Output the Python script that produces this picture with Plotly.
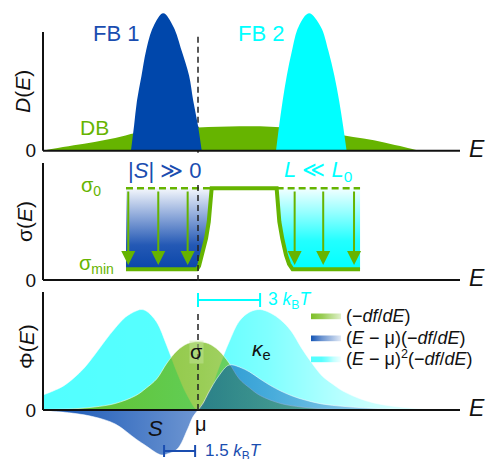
import plotly.graph_objects as go

# ---------------- data ----------------
E_MIN, E_MAX = -7.49, 12.66          # energy axis in units of kBT, mu = 0

# Panel 1: density of states
DB_E = [-7.49, -7, -6, -5, -4, -3, -2, -1, 0, 1, 2, 3, 4, 5, 6, 7, 8, 9, 10, 10.7]
DB_D = [0, 0.02, 0.055, 0.088, 0.127, 0.178, 0.195, 0.213, 0.232, 0.240, 0.245, 0.244,
        0.234, 0.214, 0.19, 0.155, 0.122, 0.083, 0.035, 0]
FB1_E = [-3.24, -3.09, -2.95, -2.73, -2.51, -2.16, -1.68, -1.19, -0.79, -0.43, -0.23, 0.0, 0.18]
FB1_D = [0, 0.25, 0.5, 0.75, 1.0, 1.24, 1.374, 1.24, 1.0, 0.75, 0.5, 0.25, 0]
FB2_E = [3.77, 3.92, 4.09, 4.29, 4.54, 4.86, 5.36, 5.93, 6.30, 6.59, 6.82, 7.01, 7.18]
FB2_D = [0, 0.25, 0.5, 0.75, 1.0, 1.24, 1.374, 1.24, 1.0, 0.75, 0.5, 0.25, 0]

# Panel 2: conductivity
SIG0 = 0.917
SIGMIN = 0.107
SIG_E = [-3.48, -0.05, 0.05, 0.18, 0.30, 0.39, 0.52, 0.60, 0.64, 0.66,
         3.80, 3.82, 3.85, 3.93, 4.07, 4.25, 4.40, 4.57, 7.83]
SIG_V = [SIGMIN, SIGMIN, 0.14, 0.25, 0.33, 0.417, 0.583, 0.75, 0.85, SIG0,
         SIG0, 0.85, 0.75, 0.583, 0.417, 0.25, 0.16, SIGMIN, SIGMIN]
ARROW_E = [-3.37, -1.92, -0.50, 4.67, 6.05, 7.54]
ARROW_TOP = 0.90
ARROW_TIP = 0.15

# Panel 3: transport kernels
GR_E = [-7.49, -7, -6, -5, -4, -3, -2.5, -2, -1.5, -1, -0.5, 0, 0.5, 1, 1.5, 2, 2.5, 3, 4, 5, 6, 7, 8, 9, 10, 12.66]
GR_V = [0.005, 0.007, 0.012, 0.03, 0.065, 0.145, 0.22, 0.31, 0.47, 0.595, 0.665, 0.683, 0.665,
        0.595, 0.47, 0.31, 0.22, 0.145, 0.065, 0.03, 0.012, 0.006, 0.003, 0.001, 0, 0]
BL_E = [-7.49, -7, -6, -5, -4, -3, -2.5, -2, -1.75, -1.5, -1, -0.5, -0.25, 0, 0.25, 0.5, 1,
        1.5, 2, 2.5, 3, 3.5, 4, 4.5, 5, 6, 7, 8, 9, 10, 11, 12.66]
BL_V = [-0.005, -0.012, -0.033, -0.07, -0.14, -0.29, -0.36, -0.43, -0.45, -0.44, -0.39, -0.19,
        -0.07, 0, 0.07, 0.17, 0.34, 0.45, 0.43, 0.38, 0.31, 0.245, 0.19, 0.145, 0.11, 0.06,
        0.037, 0.022, 0.012, 0.005, 0.002, 0]
CY_E = [-7.49, -7, -6.5, -6, -5.5, -5, -4.5, -4, -3.5, -3, -2.75, -2.5, -2, -1.5, -1, -0.5, 0,
        0.5, 1, 1.5, 2, 2.5, 3, 3.5, 4, 4.5, 5, 5.5, 6, 6.5, 7, 8, 9, 10, 11, 12.66]
CY_V = [0.15, 0.19, 0.24, 0.32, 0.42, 0.55, 0.69, 0.82, 0.93, 0.99, 1.005, 0.99, 0.88, 0.64,
        0.37, 0.14, 0, 0.15, 0.42, 0.68, 0.89, 0.98, 1.005, 0.97, 0.90, 0.79, 0.62, 0.47,
        0.34, 0.26, 0.19, 0.10, 0.05, 0.025, 0.01, 0]
BR3_E = [0, 3]          # 3 kBT bracket
BR15_E = [-1.64, -0.14]  # 1.5 kBT bracket

LEGEND_NAMES = ["(−<i>df</i>/<i>dE</i>)",
                "(<i>E</i> − μ)(−<i>df</i>/<i>dE</i>)",
                "(<i>E</i> − μ)<sup>2</sup>(−<i>df</i>/<i>dE</i>)"]

# ---------------- style ----------------
FONT = "Arial, 'Liberation Sans', Helvetica, sans-serif"
GREEN = "#66B400"
BLUE = "#0047AB"
BLUE_TXT = "#1A4DB0"
CYAN = "#00FFFF"
EDGE = dict(width=1, color="rgba(255,255,255,0.55)", shape="spline")

fig = go.Figure()

# Panel 1
for xs, ys, col in [(DB_E, DB_D, GREEN), (FB1_E, FB1_D, BLUE), (FB2_E, FB2_D, CYAN)]:
    fig.add_trace(go.Scatter(x=xs, y=ys, xaxis="x", yaxis="y", mode="lines",
                             line=dict(width=0, shape="spline", color=col),
                             fill="tozeroy", fillcolor=col, showlegend=False, hoverinfo="skip"))

# Panel 2 shaded boxes
box1_x = [SIG_E[0]] + SIG_E[0:10]
box1_y = [SIG0] + SIG_V[0:10]
box2_x = SIG_E[10:19] + [SIG_E[18]]
box2_y = SIG_V[10:19] + [SIG0]
fig.add_trace(go.Scatter(x=box1_x, y=box1_y, xaxis="x2", yaxis="y2", mode="lines",
                         line=dict(width=0), fill="toself",
                         fillgradient=dict(type="vertical", start=SIGMIN, stop=SIG0,
                                           colorscale=[[0, "#0A46AA"], [0.3, "#2459B5"],
                                                       [0.7, "#9AB2DE"], [1, "#F4F7FC"]]),
                         showlegend=False, hoverinfo="skip"))
fig.add_trace(go.Scatter(x=box2_x, y=box2_y, xaxis="x2", yaxis="y2", mode="lines",
                         line=dict(width=0), fill="toself",
                         fillgradient=dict(type="vertical", start=SIGMIN, stop=SIG0,
                                           colorscale=[[0, "#00FFFF"], [0.35, "#22FFFF"],
                                                       [0.7, "#95FFFF"], [1, "#F2FFFF"]]),
                         showlegend=False, hoverinfo="skip"))
# dashed sigma0 reference
fig.add_trace(go.Scatter(x=[SIG_E[0], SIG_E[9], None, SIG_E[10], SIG_E[18]],
                         y=[SIG0, SIG0, None, SIG0, SIG0], xaxis="x2", yaxis="y2", mode="lines",
                         line=dict(width=2.6, color=GREEN, dash="7px,4px"),
                         showlegend=False, hoverinfo="skip"))
# sigma(E) curve
fig.add_trace(go.Scatter(x=SIG_E, y=SIG_V, xaxis="x2", yaxis="y2", mode="lines",
                         line=dict(width=4, color=GREEN), showlegend=False, hoverinfo="skip"))

# Panel 3 kernels (cyan drawn first; each entry gets its own legend box)
fig.add_trace(go.Scatter(x=CY_E, y=CY_V, xaxis="x3", yaxis="y3", mode="lines", line=EDGE,
                         fill="tozeroy", name=LEGEND_NAMES[2], legend="legend3",
                         fillgradient=dict(type="horizontal", start=E_MIN, stop=E_MAX,
                                           colorscale=[[0, "rgba(0,255,255,0.68)"],
                                                       [0.35, "rgba(0,255,255,0.66)"],
                                                       [0.54, "rgba(0,255,255,0.50)"],
                                                       [0.74, "rgba(0,255,255,0.25)"],
                                                       [1, "rgba(0,255,255,0.05)"]]),
                         hoverinfo="skip"))
fig.add_trace(go.Scatter(x=GR_E, y=GR_V, xaxis="x3", yaxis="y3", mode="lines", line=EDGE,
                         fill="tozeroy", name=LEGEND_NAMES[0], legend="legend",
                         fillgradient=dict(type="horizontal", start=E_MIN, stop=E_MAX,
                                           colorscale=[[0, "rgba(102,180,0,0.85)"],
                                                       [0.385, "rgba(102,180,0,0.66)"],
                                                       [1, "rgba(102,180,0,0.2)"]]),
                         hoverinfo="skip"))
fig.add_trace(go.Scatter(x=BL_E, y=BL_V, xaxis="x3", yaxis="y3", mode="lines", line=EDGE,
                         fill="tozeroy", name=LEGEND_NAMES[1], legend="legend2",
                         fillgradient=dict(type="horizontal", start=E_MIN, stop=E_MAX,
                                           colorscale=[[0, "rgba(0,70,175,0.92)"],
                                                       [0.36, "rgba(0,70,175,0.58)"],
                                                       [0.69, "rgba(0,70,175,0.35)"],
                                                       [1, "rgba(0,70,175,0.12)"]]),
                         hoverinfo="skip"))
# brackets
fig.add_trace(go.Scatter(x=[BR3_E[0], BR3_E[0], None, BR3_E[0], BR3_E[1], None, BR3_E[1], BR3_E[1]],
                         y=[1.03, 1.17, None, 1.10, 1.10, None, 1.03, 1.17],
                         xaxis="x3", yaxis="y3", mode="lines", line=dict(width=2, color=CYAN),
                         showlegend=False, hoverinfo="skip"))
fig.add_trace(go.Scatter(x=[BR15_E[0], BR15_E[0], None, BR15_E[0], BR15_E[1], None, BR15_E[1], BR15_E[1]],
                         y=[-0.35, -0.47, None, -0.41, -0.41, None, -0.35, -0.47],
                         xaxis="x3", yaxis="y3", mode="lines", line=dict(width=2, color=BLUE_TXT),
                         showlegend=False, hoverinfo="skip"))

# ---------------- shapes: axes and mu line ----------------
shapes = []
for yref, top in [("y", 1.187), ("y2", 1.17), ("y3", 1.18)]:
    shapes.append(dict(type="line", xref="paper", yref=yref, x0=0, x1=1, y0=0, y1=0,
                       line=dict(color="#111", width=2), layer="above"))
    shapes.append(dict(type="line", xref="paper", yref=yref, x0=0, x1=0, y0=0, y1=top,
                       line=dict(color="#111", width=2), layer="above"))
shapes.append(dict(type="line", xref="x", yref="y", x0=0, x1=0, y0=-0.02, y1=1.157,
                   line=dict(color="#222", width=1.5, dash="6px,4px"), layer="below"))
shapes.append(dict(type="line", xref="x2", yref="y2", x0=0, x1=0, y0=-0.01, y1=0.98,
                   line=dict(color="#222", width=1.5, dash="6px,4px"), layer="above"))
shapes.append(dict(type="line", xref="x3", yref="y3", x0=0, x1=0, y0=0, y1=1.0,
                   line=dict(color="#222", width=1.5, dash="6px,4px"), layer="above"))

# ---------------- annotations ----------------
def ann(text, x, y, xref, yref, size=20, color="#111", xanchor="center", **kw):
    d = dict(text=text, x=x, y=y, xref=xref, yref=yref, showarrow=False,
             xanchor=xanchor, yanchor="middle",
             font=dict(family=FONT, size=size, color=color))
    d.update(kw)
    return d

PX = lambda px: (px - 43) / 417.0
annotations = [
    ann("FB 1", -3.98, 1.174, "x", "y", 22, BLUE_TXT),
    ann("FB 2", 3.04, 1.174, "x", "y", 22, CYAN),
    ann("DB", -4.98, 0.232, "x", "y", 21, GREEN),
    ann("<i>D</i>(<i>E</i>)", PX(22), 0.587, "paper", "y", 21, textangle=-90),
    ann("σ(<i>E</i>)", PX(25), 0.58, "paper", "y2", 21, textangle=-90),
    ann("Φ(<i>E</i>)", PX(26), 0.63, "paper", "y3", 21, textangle=-90),
    ann("σ<sub>0</sub>", PX(103), 0.93, "paper", "y2", 20, GREEN, xanchor="right"),
    ann("σ<sub>min</sub>", PX(116), 0.15, "paper", "y2", 20, GREEN, xanchor="right"),
    ann("|<i>S</i>| ≫ 0", -1.59, 1.09, "x2", "y2", 22, BLUE_TXT),
    ann("<i>L</i> ≪ <i>L</i><sub>0</sub>", 5.80, 1.09, "x2", "y2", 22, CYAN),
    ann("σ", -0.05, 0.58, "x3", "y3", 20, bgcolor="rgba(200,230,160,0.45)", borderpad=0),
    ann("<i>κ</i><sub>e</sub>", 3.09, 0.60, "x3", "y3", 21),
    ann("<i>S</i>", -2.07, -0.18, "x3", "y3", 22),
    ann("μ", 0.14, -0.14, "x3", "y3", 20),
    ann("3 <i>k</i><sub>B</sub><i>T</i>", 3.30, 1.10, "x3", "y3", 17.5, CYAN, xanchor="left"),
    ann("1.5 <i>k</i><sub>B</sub><i>T</i>", 0.22, -0.42, "x3", "y3", 17, BLUE_TXT, xanchor="left"),
]
for yref, y in [("y", 0.02), ("y2", 0.02), ("y3", 0.02)]:
    annotations.append(ann("<i>E</i>", PX(477), y, "paper", yref, 23))
for e in ARROW_E:
    annotations.append(dict(text="", x=e, y=ARROW_TIP, ax=e, ay=ARROW_TOP, xref="x2", yref="y2",
                            axref="x2", ayref="y2", showarrow=True, arrowhead=2, arrowsize=1.4,
                            arrowwidth=2, arrowcolor=GREEN, standoff=0))

def yax(domain, rng, anchor):
    return dict(domain=domain, range=rng, showgrid=False, zeroline=False, showline=False,
                tickvals=[0], ticktext=["0"], ticks="", fixedrange=True, automargin=False,
                ticklabelstandoff=6, anchor=anchor,
                tickfont=dict(family=FONT, size=19, color="#111"))

def xax(anchor):
    return dict(range=[E_MIN, E_MAX], visible=False, anchor=anchor, domain=[0, 1],
                fixedrange=True, automargin=False)

def leg(top_px):
    return dict(x=PX(306), y=(459 - top_px) / 459, xanchor="left", yanchor="top",
                bgcolor="rgba(0,0,0,0)", borderwidth=0,
                font=dict(family=FONT, size=18, color="#111"))

fig.update_layout(
    width=487, height=459,
    margin=dict(l=43, r=27, t=0, b=0, autoexpand=False),
    paper_bgcolor="white", plot_bgcolor="rgba(0,0,0,0)",
    font=dict(family=FONT, color="#111"),
    xaxis=xax("y"), xaxis2=xax("y2"), xaxis3=xax("y3"),
    yaxis=yax([0.6623, 0.9891], [-0.043, 1.457], "x"),
    yaxis2=yax([0.3791, 0.6558], [-0.05, 1.22], "x2"),
    yaxis3=yax([0.0, 0.3725], [-0.49, 1.22], "x3"),
    shapes=shapes, annotations=annotations,
    showlegend=True,
    legend=leg(297), legend2=leg(319), legend3=leg(340),
)

fig.write_html("out.html", config={"displayModeBar": False},
               post_script="document.body.style.margin='0';document.body.style.overflow='hidden';")
